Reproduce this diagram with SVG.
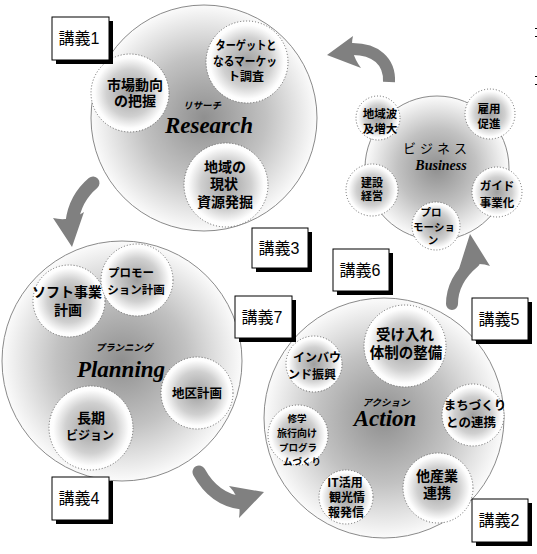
<svg xmlns="http://www.w3.org/2000/svg" width="537" height="554" viewBox="0 0 537 554">
<defs>
<radialGradient id="gBig" cx="50%" cy="50%" r="50%">
<stop offset="0" stop-color="#8f8f8f"/>
<stop offset="0.55" stop-color="#c2c2c2"/>
<stop offset="1" stop-color="#fbfbfb"/>
</radialGradient>
<radialGradient id="gSub" cx="50%" cy="50%" r="50%">
<stop offset="0" stop-color="#a0a0a0"/>
<stop offset="0.6" stop-color="#d0d0d0"/>
<stop offset="0.9" stop-color="#fdfdfd"/>
<stop offset="1" stop-color="#ffffff"/>
</radialGradient>
</defs>
<style>
.big{fill:url(#gBig);stroke:#8a8a8a;stroke-width:1}
.sub{fill:url(#gSub);stroke:#666;stroke-width:1;stroke-dasharray:1 2}
.jp{font-family:"Noto Sans CJK JP","Noto Sans CJK SC",sans-serif;font-weight:bold;text-anchor:middle;fill:#000}
.kana{font-family:"Noto Sans CJK JP",sans-serif;font-weight:bold;font-style:italic;text-anchor:middle;font-size:9.5px;fill:#000}
.en{font-family:"Liberation Serif",serif;font-weight:bold;font-style:italic;text-anchor:middle;fill:#000}
.box{fill:#fff;stroke:#000;stroke-width:1}
.shadow{fill:#000}
.lbl{font-family:"Liberation Sans","Noto Sans CJK JP",sans-serif;font-size:16px;text-anchor:middle;fill:#000}
.abody{fill:none;stroke:#808080}
.ahead{fill:#808080}
</style>

<g id="research">
<circle class="big" cx="204" cy="118" r="113"/>
<g id="r-market">
<circle class="sub" cx="130" cy="93" r="39"/>
<text class="jp" font-size="14" x="135" y="90">市場動向</text>
<text class="jp" font-size="14" x="135" y="106">の把握</text>
</g>
<g id="r-target">
<circle class="sub" cx="247" cy="62" r="41"/>
<text class="jp" font-size="12" x="246" y="50" textLength="61" lengthAdjust="spacingAndGlyphs">ターゲットと</text>
<text class="jp" font-size="12" x="245" y="66" textLength="64" lengthAdjust="spacingAndGlyphs">なるマーケッ</text>
<text class="jp" font-size="12" x="246" y="81">ト調査</text>
</g>
<g id="r-local">
<circle class="sub" cx="226" cy="185" r="42"/>
<text class="jp" font-size="14" x="225" y="172">地域の</text>
<text class="jp" font-size="14" x="224" y="189">現状</text>
<text class="jp" font-size="14" x="225" y="207">資源発掘</text>
</g>
<text class="kana" x="202" y="109">リサーチ</text>
<text class="en" font-size="23" x="209" y="133">Research</text>
</g>

<g id="business">
<circle class="big" cx="437" cy="168" r="72"/>
<g id="b-ripple">
<circle class="sub" cx="378" cy="118" r="22"/>
<text class="jp" font-size="11.5" x="380" y="118">地域波</text>
<text class="jp" font-size="11.5" x="380" y="133">及増大</text>
</g>
<g id="b-employ">
<circle class="sub" cx="490" cy="114" r="25"/>
<text class="jp" font-size="11.5" x="489" y="113">雇用</text>
<text class="jp" font-size="11.5" x="489" y="128">促進</text>
</g>
<g id="b-build">
<circle class="sub" cx="372" cy="190" r="26"/>
<text class="jp" font-size="11" x="372" y="187">建設</text>
<text class="jp" font-size="11" x="372" y="200">経営</text>
</g>
<g id="b-guide">
<circle class="sub" cx="497" cy="192" r="25"/>
<text class="jp" font-size="11.5" x="497" y="190">ガイド</text>
<text class="jp" font-size="11.5" x="497" y="207">事業化</text>
</g>
<g id="b-promo">
<circle class="sub" cx="436" cy="226" r="24"/>
<text class="jp" font-size="10.5" x="431" y="216">プロ</text>
<text class="jp" font-size="10.5" x="434" y="231">モーショ</text>
<text class="jp" font-size="10.5" x="433" y="244">ン</text>
</g>
<text x="437" y="153" font-family="Noto Sans CJK JP,sans-serif" font-size="13" text-anchor="middle" letter-spacing="4">ビジネス</text>
<text class="en" font-size="14" x="441" y="170">Business</text>
</g>

<g id="planning">
<circle class="big" cx="122" cy="361" r="120"/>
<g id="p-soft">
<circle class="sub" cx="69" cy="301" r="36"/>
<text class="jp" font-size="14" x="67" y="297">ソフト事業</text>
<text class="jp" font-size="14" x="68" y="315">計画</text>
</g>
<g id="p-promo">
<circle class="sub" cx="137" cy="280" r="36"/>
<text class="jp" font-size="11.5" x="131" y="277">プロモー</text>
<text class="jp" font-size="11.5" x="136" y="294">ション計画</text>
</g>
<g id="p-district">
<circle class="sub" cx="197" cy="393" r="36"/>
<text class="jp" font-size="12.5" x="197" y="398">地区計画</text>
</g>
<g id="p-vision">
<circle class="sub" cx="91" cy="428" r="42"/>
<text class="jp" font-size="14" x="91" y="423">長期</text>
<text class="jp" font-size="12" x="90" y="440">ビジョン</text>
</g>
<text class="kana" x="124" y="351">プランニング</text>
<text class="en" font-size="23" x="121" y="377">Planning</text>
</g>

<g id="action">
<circle class="big" cx="384" cy="418" r="120"/>
<g id="a-accept">
<circle class="sub" cx="405" cy="346" r="41"/>
<text class="jp" font-size="14.5" x="405" y="340">受け入れ</text>
<text class="jp" font-size="14.5" x="406" y="358">体制の整備</text>
</g>
<g id="a-inbound">
<circle class="sub" cx="314" cy="364" r="28"/>
<text class="jp" font-size="12" x="317" y="362">インバウ</text>
<text class="jp" font-size="12" x="312" y="379">ンド振興</text>
</g>
<g id="a-town">
<circle class="sub" cx="473" cy="415" r="31"/>
<text class="jp" font-size="12.5" x="475" y="410">まちづくり</text>
<text class="jp" font-size="12.5" x="471" y="427">との連携</text>
</g>
<g id="a-school">
<circle class="sub" cx="298" cy="435" r="30"/>
<text class="jp" font-size="9.5" x="297" y="422">修学</text>
<text class="jp" font-size="10" x="297" y="437">旅行向け</text>
<text class="jp" font-size="9.5" x="298" y="451">プログラ</text>
<text class="jp" font-size="9.5" x="302" y="465">ムづくり</text>
</g>
<g id="a-it">
<circle class="sub" cx="346" cy="497" r="27"/>
<text class="jp" font-size="12" x="345" y="487">IT活用</text>
<text class="jp" font-size="12" x="347" y="502">観光情</text>
<text class="jp" font-size="12" x="346" y="517">報発信</text>
</g>
<g id="a-industry">
<circle class="sub" cx="438" cy="488" r="35"/>
<text class="jp" font-size="14" x="437" y="481">他産業</text>
<text class="jp" font-size="14" x="437" y="498">連携</text>
</g>
<text class="kana" x="386" y="406">アクション</text>
<text class="en" font-size="23" x="385" y="426">Action</text>
</g>

<g id="connectors">
<path class="abody" stroke-width="12" d="M389,82 C390,62 376,48 350,49"/>
<path class="ahead" d="M327,55 L353,36 Q349,52 361,68 Z"/>
<path class="abody" stroke-width="13" stroke-linecap="round" d="M93,183 C80,194 74,206 72,222"/>
<path class="ahead" d="M72,247 L53,218 Q70,222 84,212 Z"/>
<path class="abody" stroke-width="13" stroke-linecap="round" d="M199,472 C210,492 225,501 242,503"/>
<path class="ahead" d="M264,492 L229,486 Q242,499 239,518 Z"/>
<path class="abody" stroke-width="12" stroke-linecap="round" d="M452,304 C452,285 462,272 474,262"/>
<path class="ahead" d="M470,234 L490,266 Q474,260 458,272 Z"/>
</g>

<g id="lec1"><rect class="shadow" x="56" y="21" width="57" height="43"/><rect class="box" x="52" y="17" width="57" height="43"/><text class="lbl" x="79" y="44">講義1</text></g>
<g id="lec3"><rect class="shadow" x="256" y="232" width="56" height="40"/><rect class="box" x="252" y="228" width="56" height="40"/><text class="lbl" x="279" y="254">講義3</text></g>
<g id="lec6"><rect class="shadow" x="337" y="253" width="56" height="42"/><rect class="box" x="333" y="249" width="56" height="42"/><text class="lbl" x="360" y="276">講義6</text></g>
<g id="lec7"><rect class="shadow" x="239" y="300" width="57" height="42"/><rect class="box" x="235" y="296" width="57" height="42"/><text class="lbl" x="262" y="323">講義7</text></g>
<g id="lec5"><rect class="shadow" x="476" y="302" width="56" height="42"/><rect class="box" x="472" y="298" width="56" height="42"/><text class="lbl" x="499" y="325">講義5</text></g>
<g id="lec4"><rect class="shadow" x="56" y="481" width="57" height="43"/><rect class="box" x="52" y="477" width="57" height="43"/><text class="lbl" x="79" y="504">講義4</text></g>
<g id="lec2"><rect class="shadow" x="476" y="503" width="56" height="43"/><rect class="box" x="472" y="499" width="56" height="43"/><text class="lbl" x="499" y="526">講義2</text></g>

<g id="edge-marks" fill="#000">
<rect x="535" y="28" width="2" height="1"/>
<rect x="535" y="36" width="2" height="1"/>
<rect x="535" y="76" width="2" height="1"/>
<rect x="535" y="84" width="2" height="1"/>
</g>
</svg>
